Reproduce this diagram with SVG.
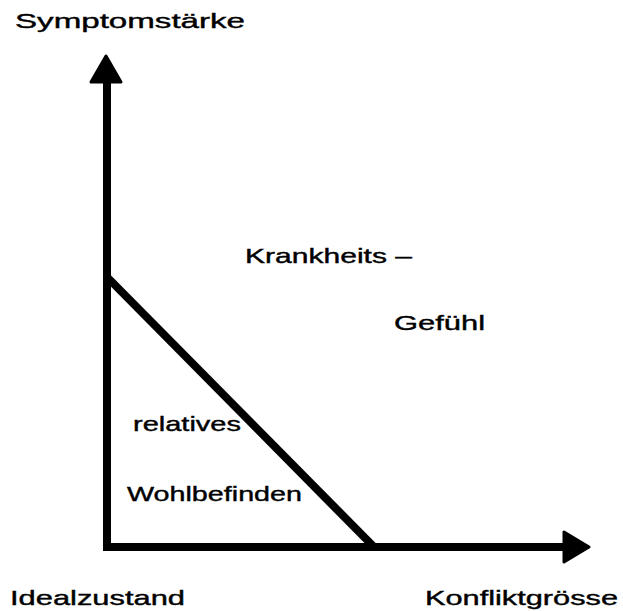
<svg xmlns="http://www.w3.org/2000/svg" width="623" height="611" viewBox="0 0 623 611">
<style>
text{font-family:"Liberation Sans",Arial,sans-serif;font-size:21px;fill:#000;stroke:#000;stroke-width:0.4;}
.ax{stroke:#000;stroke-width:8;fill:none;}
.head{fill:#000;stroke:#000;stroke-width:3;stroke-linejoin:round;}
</style>
<rect width="623" height="611" fill="#fff"/>
<g id="axes">
<line class="ax" x1="107" y1="80" x2="107" y2="551"/>
<line class="ax" x1="103" y1="547" x2="566" y2="547"/>
<polygon class="head" points="106,56 121,82 91,82"/>
<polygon class="head" points="589,547 564,532 564,562"/>
</g>
<g id="connectors">
<line class="ax" x1="108" y1="278" x2="374" y2="547" stroke-width="9"/>
</g>
<g id="labels">
<text x="15" y="28" textLength="230" lengthAdjust="spacingAndGlyphs">Symptomstärke</text>
<text x="245" y="263" textLength="167" lengthAdjust="spacingAndGlyphs">Krankheits –</text>
<text x="394" y="330" textLength="91" lengthAdjust="spacingAndGlyphs">Gefühl</text>
<text x="133" y="431" textLength="108" lengthAdjust="spacingAndGlyphs">relatives</text>
<text x="127" y="501" textLength="175" lengthAdjust="spacingAndGlyphs">Wohlbefinden</text>
<text x="10" y="605" textLength="175" lengthAdjust="spacingAndGlyphs">Idealzustand</text>
<text x="425" y="605" textLength="193" lengthAdjust="spacingAndGlyphs">Konfliktgrösse</text>
</g>
</svg>
